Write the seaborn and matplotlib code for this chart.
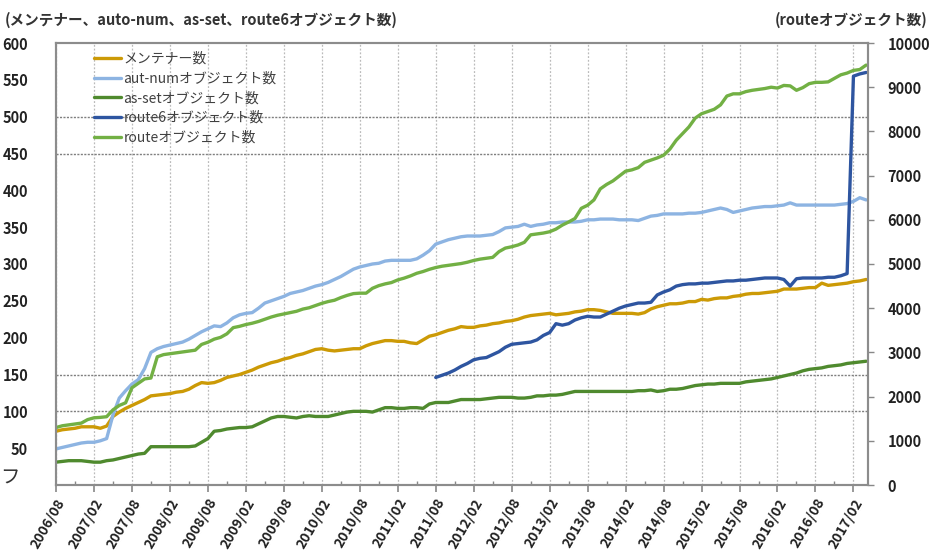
import matplotlib
matplotlib.use("Agg")
import matplotlib.pyplot as plt
import seaborn as sns
import numpy as np
import pandas as pd
from matplotlib.ticker import FixedLocator

sns.set_theme(style="white")
plt.rcParams['font.family'] = ['Noto Sans CJK JP', 'DejaVu Sans']

# ---- data (monthly, 2006/08 .. 2017/04) ----
months = pd.period_range("2006-08", "2017-04", freq="M").strftime("%Y/%m").tolist()

maintainer = [73, 75, 76, 77, 79, 79, 79, 77, 80, 93, 99, 104, 108, 112, 116, 121, 122, 123, 124, 126,
              127, 130, 135, 139, 138, 139, 142, 146, 148, 150, 153, 156, 160, 163, 166, 168, 171, 173, 176, 178,
              181, 184, 185, 183, 182, 183, 184, 185, 185, 189, 192, 194, 196, 196, 195, 195, 193, 192, 197, 202,
              204, 207, 210, 212, 215, 214, 214, 216, 217, 219, 220, 222, 223, 225, 228, 230, 231, 232, 233, 231,
              232, 233, 235, 236, 238, 238, 237, 235, 233, 233, 233, 233, 232, 234, 239, 242, 244, 246, 246, 247,
              249, 249, 252, 251, 253, 254, 254, 256, 257, 259, 260, 260, 261, 262, 263, 266, 266, 266, 267, 268,
              268, 274, 271, 272, 273, 274, 276, 277, 279]

autnum = [49, 51, 53, 55, 57, 58, 58, 60, 63, 95, 118, 128, 137, 143, 158, 180, 185, 188, 190, 192,
          194, 198, 203, 208, 212, 216, 215, 220, 227, 231, 233, 234, 240, 247, 250, 253, 256, 260, 262, 264,
          267, 270, 272, 275, 279, 283, 288, 293, 296, 298, 300, 301, 304, 305, 305, 305, 305, 307, 312, 318,
          327, 330, 333, 335, 337, 338, 338, 338, 339, 340, 344, 349, 350, 351, 354, 351, 353, 354, 356, 356,
          357, 357, 357, 358, 360, 360, 361, 361, 361, 360, 360, 360, 359, 362, 365, 366, 368, 368, 368, 368,
          369, 369, 370, 372, 374, 376, 374, 370, 372, 374, 376, 377, 378, 378, 379, 380, 383, 380, 380, 380,
          380, 380, 380, 380, 381, 382, 385, 390, 387]

asset = [31, 32, 33, 33, 33, 32, 31, 31, 33, 34, 36, 38, 40, 42, 43, 52, 52, 52, 52, 52,
         52, 52, 53, 58, 63, 73, 74, 76, 77, 78, 78, 79, 83, 87, 91, 93, 93, 92, 91, 93,
         94, 93, 93, 93, 95, 97, 99, 100, 100, 100, 99, 102, 105, 105, 104, 104, 105, 105, 104, 110,
         112, 112, 112, 114, 116, 116, 116, 116, 117, 118, 119, 119, 119, 118, 118, 119, 121, 121, 122, 122,
         123, 125, 127, 127, 127, 127, 127, 127, 127, 127, 127, 127, 128, 128, 129, 127, 128, 130, 130, 131,
         133, 135, 136, 137, 137, 138, 138, 138, 138, 140, 141, 142, 143, 144, 146, 148, 150, 152, 155, 157,
         158, 159, 161, 162, 163, 165, 166, 167, 168]

route6 = [np.nan] * 60 + [146, 149, 152, 156, 161, 165, 170, 172, 173, 177, 181, 187, 191, 192, 193, 194, 197, 203, 207, 219,
          217, 219, 224, 227, 229, 228, 228, 232, 236, 240, 243, 245, 247, 247, 248, 258, 262, 265, 270, 272,
          273, 273, 274, 274, 275, 276, 277, 277, 278, 278, 279, 280, 281, 281, 281, 279, 270, 280, 281, 281,
          281, 281, 282, 282, 284, 287, 555, 558, 560]

route = [1300, 1340, 1360, 1380, 1400, 1480, 1520, 1530, 1545, 1700, 1800, 1860, 2200, 2300, 2400, 2420, 2900, 2950, 2970, 2990,
         3010, 3030, 3050, 3180, 3230, 3300, 3340, 3420, 3560, 3590, 3630, 3660, 3700, 3750, 3800, 3840, 3870, 3900, 3930, 3980,
         4010, 4060, 4110, 4150, 4180, 4240, 4290, 4330, 4340, 4340, 4450, 4510, 4550, 4580, 4640, 4680, 4730, 4790, 4830, 4880,
         4920, 4950, 4970, 4990, 5010, 5040, 5080, 5110, 5130, 5150, 5280, 5360, 5390, 5430, 5490, 5660, 5680, 5700, 5730, 5790,
         5880, 5950, 6030, 6260, 6330, 6450, 6700, 6800, 6880, 6990, 7100, 7130, 7180, 7300, 7350, 7400, 7460, 7600, 7800, 7950,
         8100, 8300, 8400, 8450, 8500, 8600, 8800, 8850, 8850, 8900, 8930, 8950, 8970, 9000, 8980, 9040, 9030, 8930, 8990, 9080,
         9110, 9110, 9120, 9200, 9280, 9320, 9380, 9400, 9500]

labels = ["メンテナー数", "aut-numオブジェクト数", "as-setオブジェクト数", "route6オブジェクト数", "routeオブジェクト数"]
colors = ["#CC9A06", "#8DB4E2", "#4F8A2E", "#2E55A0", "#72B044"]

left_ticks = list(range(50, 601, 50))
right_ticks = list(range(0, 10001, 1000))
hgrid_left = [100, 150, 450, 500]

df = pd.DataFrame({"m": np.arange(len(months)), "maintainer": maintainer, "autnum": autnum,
                   "asset": asset, "route6": route6, "route": route})

# ---- figure ----
fig = plt.figure(figsize=(9.33, 5.57), dpi=100)
ax = fig.add_axes([56/933, 1-485/557, (868-56)/933, (485-43)/557])
ax2 = ax.twinx()

lw = 2.4
keys = ["maintainer", "autnum", "asset", "route6"]
for k, lab, c in zip(keys, labels[:4], colors[:4]):
    sns.lineplot(data=df, x="m", y=k, ax=ax, color=c, linewidth=lw, label=lab, legend=False)
sns.lineplot(data=df, x="m", y="route", ax=ax2, color=colors[4], linewidth=lw, label=labels[4], legend=False)

ax.set_xlim(0, 128.3)
ax.set_ylim(0, 600)
ax2.set_ylim(0, 10000)
ax.set_xlabel("")
ax.set_ylabel("")
ax2.set_ylabel("")

# gridlines
for m in range(0, 129, 6):
    ax.axvline(m, color="#BBBBBB", lw=0.9, ls=(0, (1.5, 1.5)), zorder=0)
for v in hgrid_left:
    ax.axhline(v, color="#7F7F7F", lw=1.0, ls=(0, (1.5, 1)), zorder=0)

# ticks
ax.xaxis.set_major_locator(FixedLocator(list(range(0, 129, 6))))
ax.set_xticklabels([months[i] for i in range(0, 129, 6)], rotation=60, ha="right",
                   rotation_mode="anchor", fontsize=10, fontweight="bold", color="#222222")
ax.xaxis.set_minor_locator(FixedLocator(list(range(3, 129, 6))))
ax.tick_params(axis="x", which="major", direction="out", length=5, width=1.2, color="#888888", pad=3, bottom=True)
ax.tick_params(axis="x", which="minor", direction="in", length=3, width=1, color="#888888", bottom=True)

ax.set_yticks(left_ticks)
ax.set_yticklabels([str(t) for t in left_ticks], fontsize=10.5, fontweight="bold", color="#222222")
ax.tick_params(axis="y", which="major", left=False, pad=14)

ax2.set_yticks(right_ticks)
ax2.set_yticklabels([str(t) for t in right_ticks], fontsize=10.5, fontweight="bold", color="#222222")
ax2.tick_params(axis="y", which="major", direction="out", length=4, width=1, color="#888888", pad=10)

for a in (ax, ax2):
    for s in a.spines.values():
        s.set_color("#8C8C8C")
        s.set_linewidth(1.5)

# legend
h1, l1 = ax.get_legend_handles_labels()
h2, l2 = ax2.get_legend_handles_labels()
leg = ax2.legend(h1 + h2, l1 + l2, loc="upper left", bbox_to_anchor=(88/933, 1-46/557),
                 bbox_transform=fig.transFigure, frameon=False, fontsize=10, handlelength=2.0,
                 handletextpad=0.15, labelspacing=0.42, borderaxespad=0)
for t in leg.get_texts():
    t.set_color("#404040")

# titles
fig.text(5/933, 1-20/557, "(メンテナー、auto-num、as-set、route6オブジェクト数)", fontsize=10.5,
         fontweight="bold", color="#333333", va="center", ha="left")
fig.text(928/933, 1-20/557, "(routeオブジェクト数)", fontsize=10.5,
         fontweight="bold", color="#333333", va="center", ha="right")
fig.text(0/933, 1-478/557, "フ", fontsize=14, color="#333333", va="center", ha="left")

fig.savefig("out.png", dpi=100)
